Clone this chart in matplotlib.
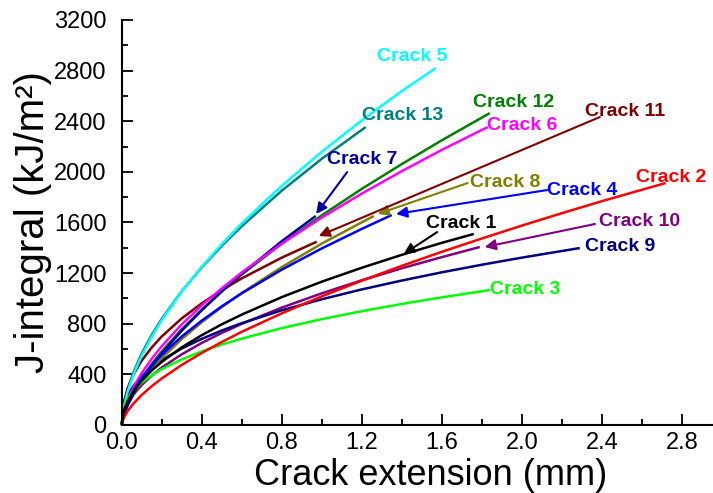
#!/usr/bin/env python3

"""J-integral versus crack extension for the 13 cracks, with labels and arrows"""

import matplotlib
matplotlib.use('Agg')
from matplotlib import pyplot as plt
from matplotlib.ticker import MultipleLocator, FormatStrFormatter

plt.rcParams['font.family'] = ['Liberation Sans', 'DejaVu Sans']

# values (crack extension in mm, J in kJ/m^2)
crack1_x = [0, 0.01, 0.03, 0.06, 0.1, 0.15, 0.2, 0.3, 0.4, 0.5, 0.6, 0.8, 1.0, 1.2, 1.4, 1.6, 1.76]
crack1_j = [0, 108, 189, 270, 350, 430, 498, 613, 709, 795, 872, 1010, 1132, 1242, 1344, 1439, 1509]

crack2_x = [0, 0.01, 0.03, 0.06, 0.1, 0.15, 0.2, 0.3, 0.4, 0.5, 0.6, 0.8, 1.0, 1.2, 1.4, 1.6, 1.8,
            2.0, 2.2, 2.4, 2.72]
crack2_j = [0, 55, 111, 171, 237, 306, 367, 474, 569, 655, 736, 882, 1016, 1140, 1257, 1368, 1473,
            1575, 1673, 1768, 1912]

crack3_x = [0, 0.01, 0.03, 0.06, 0.1, 0.15, 0.2, 0.3, 0.4, 0.5, 0.6, 0.8, 1.0, 1.2, 1.4, 1.6, 1.84]
crack3_j = [0, 134, 207, 273, 335, 393, 441, 518, 581, 635, 682, 765, 836, 899, 956, 1008, 1066]

crack4_x = [0, 0.01, 0.03, 0.06, 0.1, 0.15, 0.2, 0.3, 0.4, 0.5, 0.6, 0.8, 1.0, 1.2, 1.35]
crack4_j = [0, 99, 186, 277, 372, 469, 553, 699, 824, 937, 1040, 1227, 1395, 1549, 1659]

crack5_x = [0, 0.01, 0.03, 0.06, 0.1, 0.15, 0.2, 0.3, 0.4, 0.5, 0.6, 0.8, 1.0, 1.2, 1.4, 1.57]
crack5_j = [0, 139, 267, 404, 547, 696, 827, 1053, 1250, 1428, 1592, 1889, 2158, 2406, 2638, 2820]

crack6_x = [0, 0.01, 0.03, 0.06, 0.1, 0.15, 0.2, 0.3, 0.4, 0.5, 0.6, 0.8, 1.0, 1.2, 1.4, 1.6, 1.83]
crack6_j = [0, 103, 199, 302, 410, 523, 622, 794, 944, 1079, 1205, 1432, 1638, 1828, 2005, 2173, 2354]

crack7_x = [0, 0.01, 0.03, 0.06, 0.1, 0.15, 0.2, 0.3, 0.4, 0.5, 0.6, 0.8, 0.97]
crack7_j = [0, 74, 156, 250, 353, 465, 566, 745, 906, 1055, 1194, 1452, 1651]

crack8_x = [0, 0.01, 0.03, 0.06, 0.1, 0.15, 0.2, 0.3, 0.4, 0.5, 0.6, 0.8, 1.0, 1.26]
crack8_j = [0, 82, 162, 250, 343, 441, 527, 678, 811, 931, 1043, 1247, 1433, 1651]

crack9_x = [0, 0.01, 0.03, 0.06, 0.1, 0.15, 0.2, 0.3, 0.4, 0.5, 0.6, 0.8, 1.0, 1.2, 1.4, 1.6, 1.8,
            2.0, 2.29]
crack9_j = [0, 148, 234, 311, 384, 454, 511, 604, 680, 746, 804, 906, 993, 1071, 1141, 1206, 1266,
            1322, 1398]

crack10_x = [0, 0.01, 0.03, 0.06, 0.1, 0.15, 0.2, 0.3, 0.4, 0.5, 0.6, 0.8, 1.0, 1.2, 1.4, 1.6, 1.79]
crack10_j = [0, 96, 170, 243, 316, 390, 453, 558, 648, 727, 799, 927, 1040, 1143, 1238, 1326, 1406]

crack11_x = [0, 0.01, 0.03, 0.06, 0.1, 0.15, 0.2, 0.3, 0.4, 0.5, 0.6, 0.8, 0.975]
crack11_j = [0, 176, 292, 402, 508, 612, 699, 842, 961, 1065, 1158, 1322, 1448]

crack12_x = [0, 0.01, 0.03, 0.06, 0.1, 0.15, 0.2, 0.3, 0.4, 0.5, 0.6, 0.8, 1.0, 1.2, 1.4, 1.6, 1.84]
crack12_j = [0, 83, 169, 265, 370, 482, 581, 756, 912, 1055, 1188, 1432, 1656, 1865, 2061, 2249, 2464]

crack13_x = [0, 0.01, 0.03, 0.06, 0.1, 0.15, 0.2, 0.3, 0.4, 0.5, 0.6, 0.8, 1.0, 1.22]
crack13_j = [0, 151, 283, 421, 564, 711, 838, 1056, 1245, 1415, 1570, 1851, 2103, 2354]

labels = ['Crack 1', 'Crack 2', 'Crack 3', 'Crack 4', 'Crack 5', 'Crack 6', 'Crack 7',
          'Crack 8', 'Crack 9', 'Crack 10', 'Crack 11', 'Crack 12', 'Crack 13']

colors = ['#000000', '#FF0000', '#00FF00', '#0000FF', '#00FFFF', '#FF00FF', '#0000A0',
          '#808000', '#000080', '#800080', '#800000', '#008000', '#008080']

curves = [(crack1_x, crack1_j), (crack2_x, crack2_j), (crack3_x, crack3_j),
          (crack4_x, crack4_j), (crack5_x, crack5_j), (crack6_x, crack6_j),
          (crack7_x, crack7_j), (crack8_x, crack8_j), (crack9_x, crack9_j),
          (crack10_x, crack10_j), (crack11_x, crack11_j), (crack12_x, crack12_j),
          (crack13_x, crack13_j)]

# where each label sits (left edge, vertical centre)
label_pos = [(1.52, 1588), (2.572, 1959), (1.841, 1074), (2.126, 1856), (1.276, 2915),
             (1.827, 2370), (1.027, 2101), (1.741, 1919), (2.316, 1414), (2.386, 1611),
             (2.316, 2480), (1.756, 2551), (1.202, 2449)]

# arrows from a label to its curve: label index -> (start, tip)
arrows = {0: ((1.577, 1524), (1.41, 1351)),
          3: ((2.126, 1856), (1.372, 1667)),
          6: ((1.127, 1998), (0.972, 1667)),
          7: ((1.73, 1912), (1.28, 1667)),
          9: ((2.366, 1588), (1.815, 1406)),
          10: ((2.39, 2433), (0.985, 1493))}


if __name__ == '__main__':
    fig = plt.figure(figsize=(7.13, 4.93), dpi=100)
    ax = fig.add_axes((0.1707, 0.138, 0.8293, 0.8215))

    # draw in reverse so the low numbered cracks end up on top
    for i in reversed(range(len(curves))):
        xs, js = curves[i]
        ax.plot(xs, js, color=colors[i], lw=1.8, solid_capstyle='butt', clip_on=False)

    for i, text in enumerate(labels):
        lx, ly = label_pos[i]
        ax.text(lx, ly, text, color=colors[i], fontsize=14, fontweight='bold',
                ha='left', va='center', clip_on=False)

    for i, (start, tip) in arrows.items():
        ax.annotate('', xy=tip, xytext=start,
                    arrowprops=dict(arrowstyle='-|>', color=colors[i], lw=1.5,
                                    mutation_scale=16, shrinkA=0, shrinkB=0))

    ax.set_xlim(0, 2.956)
    ax.set_ylim(0, 3200)
    ax.xaxis.set_major_locator(MultipleLocator(0.4))
    ax.xaxis.set_minor_locator(MultipleLocator(0.2))
    ax.xaxis.set_major_formatter(FormatStrFormatter('%.1f'))
    ax.yaxis.set_major_locator(MultipleLocator(400))
    ax.yaxis.set_minor_locator(MultipleLocator(200))

    ax.spines['top'].set_visible(False)
    ax.spines['right'].set_visible(False)
    for side in ('left', 'bottom'):
        ax.spines[side].set_linewidth(1.5)

    ax.tick_params(which='both', direction='in', width=1.3, labelsize=17)
    ax.tick_params(which='major', length=8)
    ax.tick_params(which='minor', length=4)
    ax.tick_params(axis='y', pad=11)
    ax.tick_params(axis='x', pad=5)

    ax.set_xlabel('Crack extension (mm)', fontsize=26, labelpad=2)
    ax.xaxis.set_label_coords(0.523, -0.082)
    ax.set_ylabel('J-integral (kJ/m²)', fontsize=29, labelpad=1)

    fig.savefig('out.png', dpi=100)
